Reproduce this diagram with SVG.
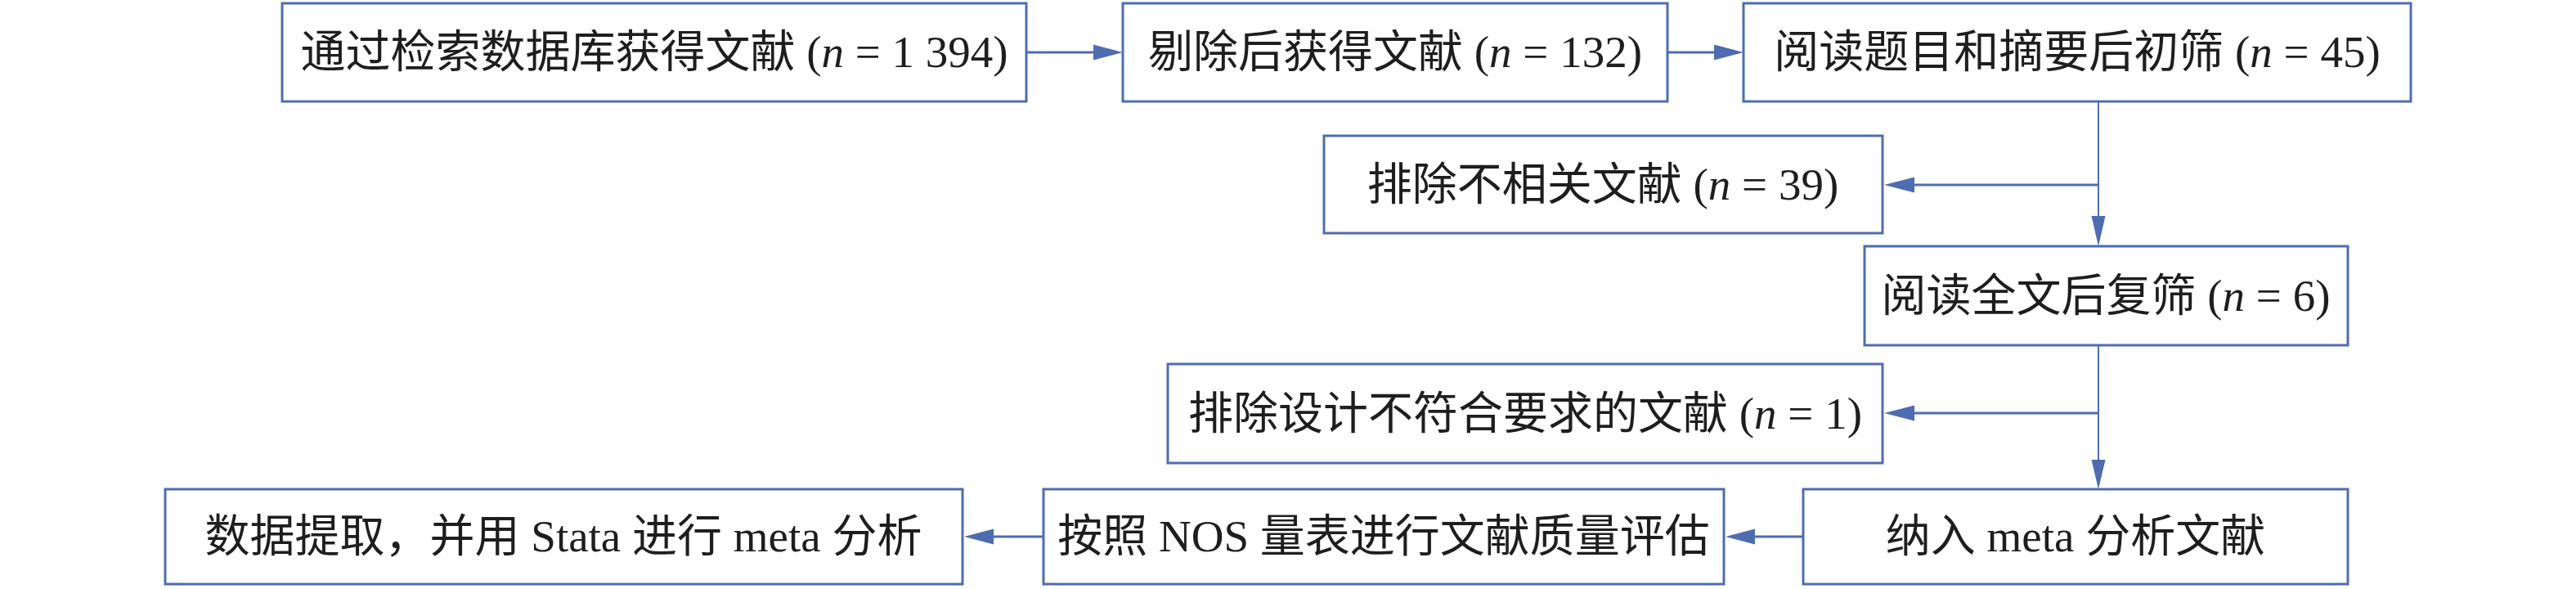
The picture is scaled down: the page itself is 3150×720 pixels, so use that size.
<svg xmlns="http://www.w3.org/2000/svg" width="3150" height="720" viewBox="0 0 3150 720">
<style>
.box{fill:#ffffff;stroke:#4e6db0;stroke-width:3}
.lbl{font-family:"Liberation Serif","Noto Sans CJK SC",serif;font-size:55px;fill:#1e1e1e;text-anchor:middle}
.it{font-style:italic}
.h{stroke:#4e6db0;stroke-width:3;fill:none}
.v{stroke:#4e6db0;stroke-width:2;fill:none}
.head{fill:#4e6db0}
</style>
<rect width="3150" height="720" fill="#ffffff"/>
<g id="n1"><rect class="box" x="345" y="4" width="910" height="120"/><text class="lbl" x="800" y="82">通过检索数据库获得文献 (<tspan class="it">n</tspan> = 1 394)</text></g>
<g id="n2"><rect class="box" x="1373" y="4" width="666" height="120"/><text class="lbl" x="1706" y="82">剔除后获得文献 (<tspan class="it">n</tspan> = 132)</text></g>
<g id="n3"><rect class="box" x="2132" y="4" width="816" height="120"/><text class="lbl" x="2540" y="82">阅读题目和摘要后初筛 (<tspan class="it">n</tspan> = 45)</text></g>
<g id="n4"><rect class="box" x="1619" y="166" width="683" height="119"/><text class="lbl" x="1960" y="244">排除不相关文献 (<tspan class="it">n</tspan> = 39)</text></g>
<g id="n5"><rect class="box" x="2280" y="301" width="591" height="121"/><text class="lbl" x="2575" y="380">阅读全文后复筛 (<tspan class="it">n</tspan> = 6)</text></g>
<g id="n6"><rect class="box" x="1428" y="445" width="874" height="121"/><text class="lbl" x="1865" y="524">排除设计不符合要求的文献 (<tspan class="it">n</tspan> = 1)</text></g>
<g id="n7"><rect class="box" x="2205" y="598" width="666" height="116"/><text class="lbl" x="2538" y="674">纳入 meta 分析文献</text></g>
<g id="n8"><rect class="box" x="1276" y="598" width="832" height="116"/><text class="lbl" x="1692" y="674">按照 NOS 量表进行文献质量评估</text></g>
<g id="n9"><rect class="box" x="202" y="598" width="975" height="116"/><text class="lbl" x="689" y="674">数据提取，并用 Stata 进行 meta 分析</text></g>
<g id="connectors">
<line class="h" x1="1255" y1="64" x2="1340" y2="64"/><polygon class="head" points="1337,54.5 1373,64 1337,73.5"/>
<line class="h" x1="2039" y1="64" x2="2099" y2="64"/><polygon class="head" points="2096,54.5 2132,64 2096,73.5"/>
<line class="v" x1="2566" y1="124" x2="2566" y2="267"/><polygon class="head" points="2557.5,264 2566,301 2574.5,264"/>
<line class="h" x1="2566" y1="226" x2="2338" y2="226"/><polygon class="head" points="2341,216.5 2304,226 2341,235.5"/>
<line class="v" x1="2566" y1="422" x2="2566" y2="565"/><polygon class="head" points="2557.5,562 2566,598 2574.5,562"/>
<line class="h" x1="2566" y1="505" x2="2338" y2="505"/><polygon class="head" points="2341,495.5 2304,505 2341,514.5"/>
<line class="h" x1="2205" y1="656" x2="2143" y2="656"/><polygon class="head" points="2146,646.5 2110,656 2146,665.5"/>
<line class="h" x1="1276" y1="656" x2="1212" y2="656"/><polygon class="head" points="1215,646.5 1179,656 1215,665.5"/>
</g>
</svg>
